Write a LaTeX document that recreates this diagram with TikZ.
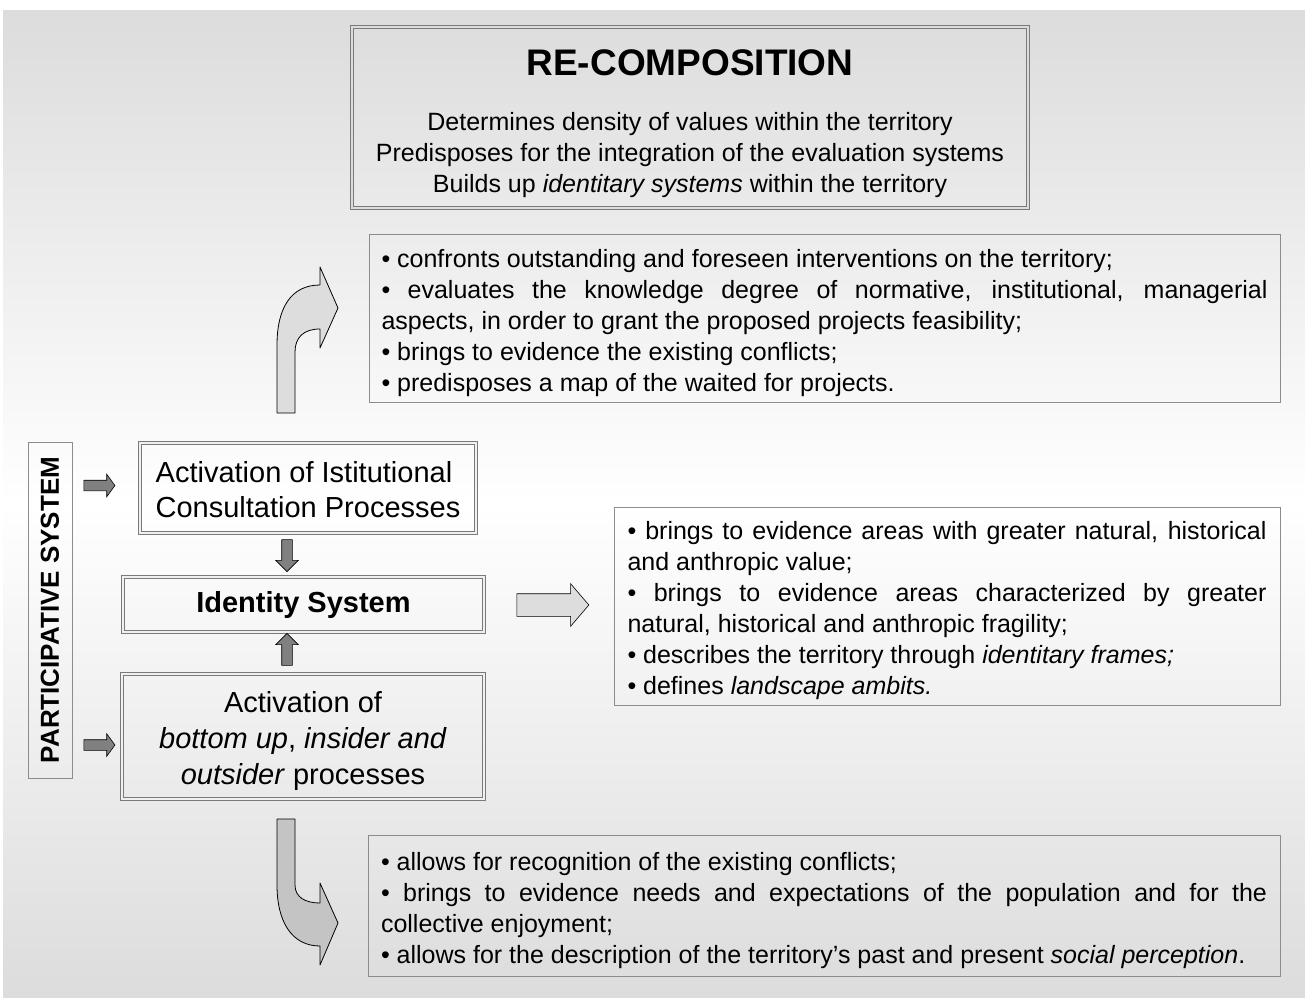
\documentclass[tikz,border=0pt]{standalone}
\usepackage{fontspec}
\setmainfont{Liberation Sans}
\usetikzlibrary{arrows.meta,positioning,calc,shapes.arrows}
\definecolor{bggray}{HTML}{DCDCDC}
\definecolor{frame}{HTML}{8C8C8C}
\definecolor{dframe}{HTML}{7A7A7A}
\definecolor{arrowlight}{HTML}{DDDDDD}
\definecolor{arrowmid}{HTML}{C4C4C4}
\definecolor{arrowdark}{HTML}{808080}

\begin{document}
\begin{tikzpicture}[x=1pt, y=-1pt,
  dbox/.style={draw=dframe, double=white!94!black, double distance=2pt, line width=0.9pt, inner sep=0pt, align=center, font=\fontsize{29}{35}\selectfont},
  txtbox/.style={draw=frame, line width=0.9pt, align=justify, inner ysep=0pt, font=\fontsize{25}{31}\selectfont,
    execute at begin node=\rule{0pt}{28pt}},
  smallarr/.style={single arrow, draw=black, fill=arrowdark, line width=0.6pt, inner xsep=0pt, inner ysep=5pt, minimum width=22pt, single arrow head extend=6pt},
  vertarr/.style={smallarr, inner xsep=5pt, inner ysep=0pt, minimum height=32pt, single arrow tip angle=90},
  bigarr/.style={single arrow, draw=black, fill=arrowlight, line width=0.6pt, inner xsep=0pt, inner ysep=11pt, minimum width=42pt, single arrow head extend=10pt, minimum height=72pt, single arrow tip angle=99},
  bentarr/.style={draw=black, line width=0.8pt, line join=round},
]
\useasboundingbox (0,0) rectangle (1305,997);
% Background
\shade[top color=bggray, bottom color=bggray, middle color=white] (3,10) rectangle (1305,997);

% Re-composition box
\node[dbox, double=bggray, minimum width=676pt, minimum height=181pt, font=\fontsize{25}{31}\selectfont] (recomp) at (690,117.5)
  {\rule{0pt}{38pt}{\fontsize{37}{37}\selectfont\bfseries RE-COMPOSITION}\\[24pt]
   Determines density of values within the territory\\
   Predisposes for the integration of the evaluation systems\\
   Builds up \textit{identitary systems} within the territory};

% Participative system
\node[draw=frame, line width=0.9pt, rotate=90, minimum width=336pt, minimum height=44pt, inner sep=0pt,
  font=\fontsize{26}{30}\selectfont\bfseries] (partsys) at (50,610) {PARTICIPATIVE SYSTEM};

% Activation boxes
\node[dbox, minimum width=336pt, minimum height=90pt, align=left] (istit) at (308,488)
  {\rule{0pt}{25pt}Activation of Istitutional\\Consultation Processes};
\node[dbox, minimum width=361pt, minimum height=55pt, font=\fontsize{29}{35}\selectfont\bfseries] (ident) at (303.5,604.5)
  {Identity System};
\node[dbox, minimum width=362pt, minimum height=125pt, font=\fontsize{29}{36}\selectfont] (bottomup) at (303,736.5)
  {\rule{0pt}{30pt}Activation of\\\textit{bottom up}, \textit{insider and}\\\textit{outsider} processes};

% Small arrows
\node[smallarr, minimum height=31pt, single arrow tip angle=108] (pa1) at (97.5,485.5) {};
\node[smallarr, minimum height=31pt, single arrow tip angle=108] (pa2) at (97.5,745) {};
\node[vertarr, shape border rotate=270] (down) at (287,553) {};
\node[vertarr, shape border rotate=90] (up) at (287,652) {};
\node[bigarr] (right) at (548,605) {};

% Text boxes
\node[txtbox, text width=886pt, inner xsep=12.5pt, minimum height=168pt] (consult) at (824.5,318)
  {• confronts outstanding and foreseen interventions on the territory;\\
   • evaluates the knowledge degree of normative, institutional, managerial\linebreak aspects, in order to grant the proposed projects feasibility;\\
   • brings to evidence the existing conflicts;\\
   • predisposes a map of the waited for projects.};
\node[txtbox, text width=639pt, inner xsep=13.5pt, minimum height=198pt] (identity) at (947,606)
  {• brings to evidence areas with greater natural, historical\linebreak and anthropic value;\\
   • brings to evidence areas characterized by greater\linebreak natural, historical and anthropic fragility;\\
   • describes the territory through \textit{identitary frames;}\\
   • defines \textit{landscape ambits.}};
\node[txtbox, text width=886pt, inner xsep=13pt, minimum height=141pt] (social) at (824,905.5)
  {• allows for recognition of the existing conflicts;\\
   • brings to evidence needs and expectations of the population and for the\linebreak collective enjoyment;\\
   • allows for the description of the territory’s past and present \textit{social perception}.};

% Bent arrows
\draw[bentarr, fill=arrowlight] (277,413) -- (277,345) .. controls (277,308) and (291,285) .. (320,285)
  -- (320,267) -- (338,308) -- (320,348) -- (320,329) .. controls (304,329) and (295,337) .. (295,352) -- (295,413) -- cycle;
\draw[bentarr, fill=arrowmid] (277,819) -- (295,819) -- (295,885) .. controls (295,897) and (305,903) .. (320,903)
  -- (320,883) -- (338,923) -- (320,965) -- (320,946) .. controls (292,946) and (277,922) .. (277,885) -- cycle;

\end{tikzpicture}
\end{document}
